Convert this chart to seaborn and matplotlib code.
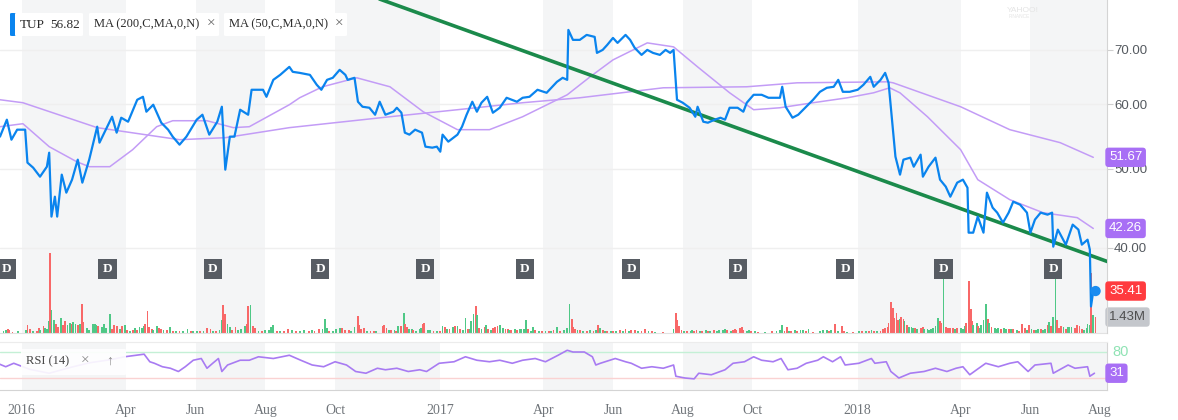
import numpy as np
import pandas as pd
import seaborn as sns
import matplotlib.pyplot as plt
from matplotlib import transforms
from matplotlib.patches import FancyBboxPatch

# day offsets are counted from this date
base = pd.Timestamp('2016-01-01')

# TUP close
price_day = [-19, -13, -9, -4, 3, 5, 10, 16, 22, 24,
             26, 29, 31, 35, 39, 44, 49, 53, 59, 66,
             68, 79, 83, 87, 93, 101, 106, 109, 115, 122,
             128, 132, 138, 144, 153, 158, 164, 171, 175, 178,
             182, 186, 191, 198, 201, 211, 214, 220, 226, 234,
             237, 243, 252, 258, 262, 267, 272, 278, 283, 285,
             291, 294, 298, 304, 309, 313, 318, 325, 328, 332,
             335, 339, 344, 350, 353, 359, 363, 366, 368, 373,
             381, 385, 389, 394, 398, 402, 407, 412, 418, 424,
             433, 438, 444, 451, 459, 468, 473, 477, 478, 482,
             488, 494, 501, 503, 508, 512, 517, 521, 528, 532,
             536, 542, 547, 552, 558, 563, 567, 570, 573, 578,
             584, 589, 591, 596, 600, 606, 611, 615, 619, 626,
             631, 634, 640, 647, 653, 659, 663, 665, 668, 674,
             679, 685, 692, 698, 704, 710, 714, 718, 724, 731,
             736, 742, 745, 751, 755, 758, 761, 764, 768, 771,
             777, 780, 786, 788, 793, 799, 803, 808, 812, 818,
             823, 827, 828, 832, 836, 841, 844, 849, 853, 858,
             863, 867, 873, 879, 882, 886, 891, 897, 901, 902,
             906, 913, 919, 924, 927, 932, 934, 935, 937]
price_close = [54.78, 57.47, 54.31, 55.87, 55.87, 50.90, 50.18, 48.92, 50.32, 52.35,
               43.70, 46.23, 43.70, 49.20, 46.76, 48.51, 51.33, 48.10, 51.33, 56.34,
               53.86, 57.95, 55.40, 57.79, 57.14, 60.80, 61.31, 58.78, 59.95, 56.98,
               55.87, 54.78, 53.55, 54.78, 57.47, 58.28, 55.09, 57.14, 59.61, 49.90,
               54.78, 54.78, 59.11, 58.28, 62.54, 62.54, 61.31, 64.32, 65.23, 66.72,
               65.79, 65.60, 65.23, 63.42, 62.54, 64.32, 64.69, 66.16, 65.23, 64.32,
               64.69, 60.46, 59.61, 59.44, 58.28, 60.46, 58.28, 58.78, 59.44, 58.61,
               55.40, 55.09, 55.87, 55.40, 53.25, 53.10, 53.25, 52.50, 55.09, 54.01,
               55.09, 56.34, 58.28, 60.46, 58.78, 60.29, 61.31, 58.61, 59.44, 61.14,
               60.46, 61.14, 61.31, 62.54, 62.01, 63.96, 64.69, 64.32, 74.07, 72.01,
               72.01, 73.03, 72.62, 69.41, 70.00, 71.00, 72.41, 71.40, 73.03, 72.01,
               70.40, 69.02, 70.00, 69.41, 69.02, 70.00, 69.41, 70.00, 60.80, 60.29,
               59.44, 57.95, 59.61, 57.14, 56.98, 57.47, 57.79, 57.47, 59.44, 59.44,
               58.78, 60.29, 61.66, 61.66, 61.14, 61.14, 61.14, 63.07, 59.61, 57.79,
               58.28, 59.44, 60.80, 62.18, 62.89, 63.07, 64.32, 62.18, 62.18, 62.54,
               63.42, 64.87, 63.07, 64.32, 65.60, 63.78, 57.47, 51.77, 49.20, 51.33,
               51.62, 50.32, 52.06, 48.92, 50.32, 51.62, 48.51, 47.56, 46.23, 48.10,
               48.51, 47.42, 41.76, 41.76, 43.70, 41.76, 46.76, 44.82, 44.19, 42.96,
               44.19, 45.58, 45.20, 44.19, 41.76, 43.33, 44.19, 43.94, 44.19, 40.14,
               42.12, 40.37, 42.72, 42.12, 40.37, 40.94, 39.80, 33.90, 35.41]

# moving averages
ma200_day = [-19, 1, 66, 138, 178, 234, 322, 381, 438, 488,
             561, 634, 678, 757, 762, 821, 864, 908, 937]
ma200 = [60.80, 60.29, 56.19, 54.31, 54.62, 56.19, 57.95, 59.11, 60.29, 61.14,
         62.89, 63.07, 63.78, 63.96, 63.78, 59.61, 55.87, 53.86, 51.67]
ma50_day = [-19, 1, 5, 24, 48, 59, 77, 97, 118, 132,
            162, 185, 199, 234, 243, 263, 293, 322, 351, 381,
            409, 438, 477, 497, 517, 547, 570, 591, 619, 640,
            663, 692, 722, 745, 759, 768, 792, 821, 836, 864,
            893, 923, 937]
ma50 = [56.34, 56.82, 56.19, 53.25, 51.04, 50.32, 50.32, 52.80, 56.34, 57.30,
        57.30, 56.19, 56.34, 59.95, 61.14, 63.07, 64.69, 63.07, 58.78, 55.87,
        55.87, 57.95, 61.66, 64.87, 68.05, 71.40, 70.60, 66.72, 62.01, 59.11,
        59.44, 60.29, 61.14, 62.01, 62.89, 62.00, 57.95, 52.80, 48.51, 45.84,
        44.19, 43.57, 42.26]

# hand drawn trend line
trend_day = [287, 961]
trend_px = [83.3, 37.97]

# RSI (14)
rsi_day = [-21, -14, -7, 7, 24, 42, 59, 77, 90, 100,
           107, 112, 116, 123, 130, 137, 143, 150, 157, 162,
           167, 172, 175, 180, 191, 199, 207, 220, 234, 244,
           254, 264, 274, 284, 292, 301, 311, 318, 328, 338,
           348, 354, 365, 378, 388, 398, 409, 418, 429, 438,
           449, 458, 469, 477, 482, 492, 499, 502, 506, 519,
           528, 533, 542, 551, 561, 570, 572, 580, 588, 592,
           603, 615, 622, 632, 640, 647, 657, 664, 670, 678,
           686, 696, 701, 709, 716, 720, 732, 743, 746, 756,
           760, 767, 777, 789, 799, 809, 817, 823, 829, 835,
           843, 854, 864, 871, 880, 886, 900, 902, 915, 921,
           932, 934, 938]
rsi = [53.75, 46, 54, 40, 31, 44, 55, 62, 69, 72.5,
       75, 57.5, 54, 46, 42.5, 35, 46, 61, 65, 42.5,
       54, 65, 35, 50, 61, 61, 69, 65, 72.5, 61,
       50, 46, 57.5, 50, 35, 31, 42.5, 39, 42.5, 35,
       39, 35, 54, 57.5, 69, 61, 57.5, 61, 54, 61,
       65, 57.5, 72.5, 84, 80, 80, 69, 50, 54, 65,
       57.5, 54, 42.5, 46, 42.5, 50, 24, 20, 18, 31,
       27.5, 39, 54, 57.5, 69, 61, 57.5, 65, 39, 42.5,
       54, 61, 69, 57.5, 69, 50, 54, 65, 54, 57.5,
       35, 20, 31, 35, 42.5, 35, 42.5, 46, 27.5, 39,
       54, 46, 54, 57.5, 35, 50, 54, 31, 50, 42.5,
       46, 24, 31]

# volume (millions), up day = 1
vol_day = [-16, -14, -12, -11, -8, -3, 4, 5, 7, 10,
           13, 15, 16, 19, 20, 22, 24, 25, 26, 28,
           30, 32, 34, 36, 38, 40, 42, 44, 45, 47,
           49, 51, 53, 54, 57, 59, 62, 64, 65, 67,
           70, 72, 74, 77, 79, 81, 83, 86, 88, 90,
           92, 95, 97, 99, 101, 103, 105, 107, 108, 110,
           111, 114, 115, 118, 120, 122, 124, 127, 130, 132,
           135, 138, 141, 145, 148, 150, 153, 156, 159, 162,
           165, 167, 170, 173, 175, 176, 178, 180, 182, 184,
           187, 189, 192, 195, 197, 198, 200, 202, 204, 207,
           210, 213, 216, 218, 220, 223, 226, 229, 233, 236,
           240, 243, 247, 251, 254, 256, 260, 263, 265, 267,
           269, 272, 275, 278, 280, 283, 286, 288, 291, 294,
           295, 297, 299, 302, 305, 308, 310,
           316, 317, 319, 321, 323, 326, 327, 329, 332, 334,
           335, 337, 339, 341, 342, 345, 348, 349, 351, 352,
           355, 357, 360, 363, 366, 368, 370, 372, 374, 377,
           379, 381, 383, 386, 388, 390, 392, 393, 395, 397,
           398, 400, 402, 405, 406, 408, 410, 412, 414, 416,
           418, 421, 423, 425, 426, 428, 431, 433, 436, 437,
           439, 441, 443, 445, 447, 449, 452, 455, 458, 461,
           463, 465, 468, 471, 474, 477, 479, 481, 482, 484,
           486, 488, 491, 494, 497, 500, 502, 504, 506, 508,
           510, 512, 515, 517, 520, 523, 526, 528, 531, 533,
           536, 539, 542, 545, 548, 551, 554, 561, 570, 572,
           573, 575, 577, 579, 582, 585, 586, 588, 590, 593,
           595, 598, 600, 602, 605, 608, 610, 613, 615, 617,
           620, 622, 624, 625, 628, 630, 631, 634, 636,
           638, 641, 644, 650, 656, 660, 663, 665, 667, 669,
           671, 673, 676, 678, 681, 683, 686, 688, 692, 698,
           701, 704, 706, 708, 711, 714, 717, 719, 722, 727,
           732, 735, 738, 741, 743, 745, 748, 751, 753, 755,
           757, 758, 760, 762, 763, 765, 766, 768, 769, 771,
           772, 774, 776, 778, 779, 781, 783, 786, 788, 789,
           792, 793, 795, 797, 799, 801, 803, 804, 806, 808,
           810, 812, 814, 816, 818, 821, 823, 825, 826, 828,
           830, 831, 832, 835, 836, 838, 839, 841, 843, 845,
           846, 848, 851, 852, 854, 856, 859, 861, 863, 865,
           867, 870, 872, 875, 877, 879, 881, 883, 885, 887,
           889, 891, 893, 895, 897, 898, 900, 902, 904, 905,
           907, 909, 911, 913, 915, 916, 918, 921, 923, 925,
           927, 929, 931, 932, 934, 935, 937, 939]
vol_m = [0.18, 0.27, 0.36, 0.27, 0.09, 0.18, 0.27, 0.72, 0.36, 0.18,
         0.18, 0.45, 0.27, 0.63, 0.45, 0.36, 1.07, 7.15, 2.06, 1.16,
         0.80, 0.54, 1.34, 0.72, 1.07, 0.72, 0.89, 0.80, 0.98, 0.80,
         0.72, 0.80, 2.59, 0.98, 0.45, 0.27, 0.80, 0.80, 0.72, 0.63,
         0.54, 0.80, 0.45, 1.70, 0.36, 0.72, 0.63, 0.36, 0.63, 0.72,
         0.27, 0.18, 0.27, 0.45, 0.27, 0.54, 0.45, 0.63, 0.80, 1.97,
         0.54, 0.36, 0.27, 0.63, 0.45, 0.36, 0.27, 0.27, 0.54, 0.18,
         0.18, 0.18, 0.18, 0.36, 0.18, 0.18, 0.18, 0.18, 0.18, 0.45,
         0.36, 0.18, 0.18, 0.27, 1.16, 2.50, 1.70, 0.80, 0.54, 0.27,
         0.54, 0.27, 0.36, 0.63, 0.80, 2.41, 2.50, 0.63, 0.45, 0.18,
         0.18, 0.27, 0.27, 0.54, 0.72, 0.18, 0.18, 0.18, 0.36, 0.27,
         0.18, 0.18, 0.27, 0.18, 0.27, 0.18, 0.36, 0.36, 1.25, 0.45,
         0.18, 0.18, 0.36, 0.45, 0.45, 0.27, 0.27, 0.18, 0.54, 1.52,
         0.72, 0.36, 0.45, 0.18, 0.18, 0.18, 0.18,
         0.63, 0.72, 0.45, 0.27, 0.27, 0.27, 0.18, 0.63, 0.63, 1.79,
         0.80, 0.54, 0.36, 0.36, 0.27, 0.18, 0.36, 0.45, 0.80, 0.89,
         0.27, 0.27, 0.18, 0.18, 0.18, 0.63, 0.54, 0.36, 0.36, 0.54,
         0.63, 0.63, 0.36, 0.27, 1.34, 0.36, 0.36, 1.07, 1.70, 2.41,
         1.61, 0.45, 0.36, 0.54, 0.72, 0.36, 0.27, 0.45, 0.54, 0.63,
         0.72, 0.45, 0.36, 0.36, 0.27, 0.27, 0.36, 0.27, 0.36, 0.36,
         0.36, 1.16, 0.36, 0.18, 0.54, 0.27, 0.18, 0.18, 0.18, 0.18,
         0.18, 0.27, 0.54, 0.18, 0.27, 0.45, 2.59, 1.25, 0.54, 0.36,
         0.27, 0.27, 0.18, 0.18, 0.27, 0.18, 0.27, 0.72, 0.45, 0.27,
         0.18, 0.18, 0.18, 0.18, 0.18, 0.27, 0.18, 0.36, 0.18, 0.27,
         0.27, 0.18, 0.18, 0.36, 0.18, 0.18, 0.09, 0.09, 0.36, 1.79,
         1.16, 0.63, 0.27, 0.18, 0.18, 0.18, 0.27, 0.18, 0.27, 0.18,
         0.18, 0.27, 0.18, 0.18, 0.27, 0.18, 0.27, 0.27, 0.36, 0.27,
         0.18, 0.27, 0.36, 0.27, 0.45, 0.54, 0.27, 0.18, 0.27,
         0.18, 0.18, 0.09, 0.09, 0.18, 0.18, 0.27, 0.72, 0.18, 0.54,
         0.18, 0.18, 0.27, 0.18, 0.27, 0.27, 0.18, 0.36, 0.09, 0.18,
         0.27, 0.27, 0.18, 0.27, 0.80, 0.18, 0.63, 0.18, 0.09, 0.09,
         0.18, 0.18, 0.18, 0.18, 0.27, 0.18, 0.18, 0.18, 0.36, 0.45,
         0.54, 0.89, 2.77, 2.24, 1.34, 1.79, 1.16, 1.25, 1.43, 1.25,
         1.07, 0.72, 0.54, 0.54, 0.45, 0.45, 0.36, 0.45, 0.54, 0.36,
         0.36, 0.27, 0.36, 0.45, 0.63, 1.34, 1.07, 0.89, 5.19, 0.54,
         0.45, 0.45, 0.45, 0.36, 0.45, 0.45, 0.36, 0.63, 0.89, 4.65,
         2.15, 1.07, 0.72, 0.89, 0.63, 0.45, 0.72, 1.16, 2.59, 1.25,
         0.89, 0.54, 0.45, 0.36, 0.45, 0.36, 0.45, 0.36, 0.36, 0.36,
         0.36, 0.27, 0.18, 0.80, 0.45, 0.27, 0.72, 0.36, 0.27, 0.27,
         0.36, 0.36, 0.27, 0.36, 0.72, 0.98, 0.63, 1.43, 5.10, 1.16,
         0.45, 0.63, 0.54, 0.36, 0.54, 0.54, 0.54, 0.45, 0.72, 0.63,
         0.36, 0.27, 0.45, 0.80, 0.72, 5.36, 1.61, 1.43]
vol_up = [1, 1, 0, 0, 0, 1, 1, 0, 0, 1,
          0, 0, 1, 0, 1, 1, 1, 0, 1, 1,
          0, 0, 1, 0, 0, 1, 1, 0, 1, 1,
          0, 1, 0, 0, 1, 1, 1, 1, 1, 0,
          1, 1, 1, 1, 0, 0, 0, 1, 0, 1,
          0, 1, 0, 1, 0, 1, 1, 1, 0, 0,
          0, 0, 1, 1, 0, 0, 1, 0, 1, 0,
          1, 0, 1, 1, 0, 1, 1, 0, 1, 0,
          0, 1, 0, 1, 1, 0, 0, 1, 1, 0,
          0, 1, 1, 1, 0, 0, 1, 0, 0, 1,
          0, 1, 1, 1, 1, 0, 1, 0, 0, 1,
          0, 1, 1, 0, 1, 0, 0, 1, 1, 1,
          0, 1, 1, 1, 0, 0, 0, 1, 1, 0,
          0, 0, 0, 1, 0, 0, 1,
          0, 0, 0, 1, 0, 1, 0, 1, 0, 1,
          0, 0, 1, 1, 0, 1, 1, 1, 0, 0,
          1, 1, 0, 1, 0, 1, 0, 1, 0, 1,
          0, 1, 0, 1, 1, 0, 1, 1, 1, 0,
          1, 0, 1, 0, 1, 0, 1, 0, 0, 0,
          1, 1, 0, 0, 1, 0, 1, 0, 1, 1,
          1, 1, 0, 1, 1, 0, 1, 0, 1, 0,
          1, 0, 1, 0, 1, 1, 1, 0, 0, 0,
          1, 0, 1, 0, 1, 0, 1, 0, 1, 0,
          1, 0, 1, 0, 1, 0, 1, 0, 1, 0,
          0, 1, 0, 0, 1, 0, 1, 0, 1, 0,
          0, 0, 0, 1, 0, 1, 1, 0, 0, 1,
          0, 1, 0, 1, 0, 1, 1, 1, 1, 0,
          1, 0, 0, 0, 0, 0, 0, 1, 1,
          0, 1, 0, 1, 0, 1, 1, 1, 0, 0,
          1, 0, 1, 0, 1, 1, 0, 1, 0, 1,
          1, 1, 0, 1, 0, 1, 0, 0, 1, 0,
          1, 0, 1, 0, 1, 0, 1, 0, 0, 0,
          0, 0, 0, 0, 0, 0, 0, 1, 0, 0,
          1, 0, 1, 1, 1, 0, 1, 0, 0, 1,
          1, 1, 1, 1, 1, 1, 0, 0, 1, 0,
          0, 0, 0, 1, 0, 1, 1, 1, 0, 0,
          0, 0, 1, 1, 0, 1, 1, 1, 1, 0,
          1, 0, 1, 1, 1, 0, 1, 1, 0, 1,
          0, 1, 0, 0, 0, 1, 0, 1, 0, 1,
          1, 0, 1, 1, 0, 1, 0, 1, 1, 0,
          0, 0, 1, 0, 1, 1, 1, 0, 0, 0,
          0, 1, 1, 1, 1, 0, 1, 0]

# dividend markers
div_day = [-13, 75, 167, 261, 353, 440, 533, 626, 720, 806, 902]

tick_dates = ['2016-01-01', '2016-04-01', '2016-06-01', '2016-08-01', '2016-10-01',
              '2017-01-01', '2017-04-01', '2017-06-01', '2017-08-01', '2017-10-01',
              '2018-01-01', '2018-04-01', '2018-06-01', '2018-08-01']
tick_labels = ['2016', 'Apr', 'Jun', 'Aug', 'Oct', '2017', 'Apr', 'Jun', 'Aug', 'Oct',
               '2018', 'Apr', 'Jun', 'Aug']
shade_from = ['2016-01-01', '2016-06-01', '2016-10-01', '2017-04-01', '2017-08-01',
              '2018-01-01', '2018-06-01']
shade_to = ['2016-04-01', '2016-08-01', '2017-01-01', '2017-06-01', '2017-10-01',
            '2018-04-01', '2018-08-20']
price_ticks = [40, 50, 60, 70]
last_close, last_ma200, last_ma50, last_vol, last_rsi = 35.41, 51.67, 42.26, 1.43, 31


def to_dates(days):
    return base + pd.to_timedelta(np.asarray(days), unit='D')


sns.set_style('white')
plt.rcParams['font.family'] = ['Liberation Sans', 'DejaVu Sans']

W, H = 1178, 420
fig = plt.figure(figsize=(W / 100, H / 100), dpi=100)


def rect(x0, y0, x1, y1):
    return [x0 / W, 1 - y1 / H, (x1 - x0) / W, (y1 - y0) / H]


axv = fig.add_axes(rect(0, 0, 1107, 333))
ax = fig.add_axes(rect(0, 0, 1107, 333), sharex=axv)
axr = fig.add_axes(rect(0, 342, 1107, 390), sharex=axv)
ax.patch.set_visible(False)
ax.set_zorder(2)
axv.set_zorder(1)

band = '#f4f5f6'
for s, e in zip(shade_from, shade_to):
    axv.axvspan(pd.Timestamp(s), pd.Timestamp(e), color=band, lw=0, zorder=0)
    axr.axvspan(pd.Timestamp(s), pd.Timestamp(e), color=band, lw=0, zorder=0)

# volume
vcol = ['#4fc886' if u else '#f86868' for u in vol_up]
axv.bar(to_dates(vol_day), vol_m, width=1.6, color=vcol, lw=0, zorder=2,
        antialiased=False)
axv.set_ylim(0, 29.8)
axv.set_yticks([])
for sp in ['top', 'left', 'right']:
    axv.spines[sp].set_visible(False)
axv.spines['bottom'].set_color('#e2e2e2')
axv.tick_params(axis='x', bottom=False, labelbottom=False)

# price panel
ax.set_yscale('log')
ax.grid(axis='y', color='#efefef', lw=1)
ax.grid(axis='x', visible=False)
sns.lineplot(x=to_dates(ma200_day), y=ma200, ax=ax, color='#c39cf6', lw=1.1, zorder=2)
sns.lineplot(x=to_dates(ma50_day), y=ma50, ax=ax, color='#c39cf6', lw=1.1, zorder=2)
sns.lineplot(x=to_dates(trend_day), y=trend_px, ax=ax, color='#1b8a4b', lw=2.6, zorder=3)
sns.lineplot(x=to_dates(price_day), y=price_close, ax=ax, color='#0a84ee', lw=1.6, zorder=4)
sns.scatterplot(x=to_dates([939]), y=[last_close], ax=ax, s=55, color='#1a8cf0',
                edgecolor='none', zorder=6)
ax.set_ylim(31.45, 80.6)
ax.set_xlim(pd.Timestamp('2015-12-13'), pd.Timestamp('2018-08-07'))
ax.set_xlabel('')
ax.set_ylabel('')
ax.yaxis.tick_right()
ax.set_yticks(price_ticks)
ax.set_yticklabels([f'{t:.2f}' for t in price_ticks])
ax.yaxis.set_minor_locator(plt.NullLocator())
ax.tick_params(axis='y', length=4, color='#cfcfcf', labelcolor='#555a60',
               labelsize=9.5, pad=1)
ax.tick_params(axis='x', bottom=False, labelbottom=False)
for sp in ['top', 'left', 'bottom']:
    ax.spines[sp].set_visible(False)
ax.spines['right'].set_color('#d4d4d4')

# dividend boxes
dtr = transforms.blended_transform_factory(ax.transData, ax.transAxes)
for d in to_dates(div_day):
    ax.text(d, 0.192, 'D', transform=dtr, ha='center', va='center', color='white',
            fontsize=9.5, fontweight='bold', family='Liberation Serif', zorder=5,
            bbox=dict(boxstyle='square,pad=0.32', fc='#575c63', ec='none'))


def badge(axis, y, text, fc, tc='white'):
    tr = transforms.blended_transform_factory(axis.transAxes, axis.transData)
    axis.text(1109 / 1107, y, text, transform=tr, ha='left', va='center', fontsize=9.5,
              color=tc, family='Liberation Sans', clip_on=False, zorder=10,
              bbox=dict(boxstyle='round,pad=0.28,rounding_size=0.25', fc=fc, ec='none'))


badge(ax, last_ma200, f'{last_ma200:.2f}', '#a86ff5')
badge(ax, last_ma50, f'{last_ma50:.2f}', '#a86ff5')
badge(ax, last_close, f'{last_close:.2f}', '#ff3b3f')
badge(axv, last_vol, f'{last_vol:.2f}M', '#c4c7cc', '#4f4f4f')

# RSI panel
axr.axhline(80, color='#c4f0d6', lw=1, zorder=1)
axr.axhline(20, color='#fad2d2', lw=1, zorder=1)
sns.lineplot(x=to_dates(rsi_day), y=rsi, ax=axr, color='#a87bf2', lw=1.2, zorder=3)
axr.set_ylim(-7.7, 103.1)
axr.set_yticks([])
axr.set_xlabel('')
axr.set_ylabel('')
axr.set_xticks(pd.to_datetime(tick_dates))
axr.set_xticklabels(tick_labels)
axr.tick_params(axis='x', length=4, color='#c8c8c8', labelcolor='#70757a',
                labelsize=10, pad=6)
for lab in axr.get_xticklabels():
    lab.set_family('Liberation Serif')
axr.spines['left'].set_visible(False)
axr.spines['top'].set_color('#ececec')
axr.spines['bottom'].set_color('#d4d4d4')
axr.spines['right'].set_color('#d4d4d4')
rtr = transforms.blended_transform_factory(axr.transAxes, axr.transData)
axr.text(1112 / 1107, 80, '80', transform=rtr, ha='left', va='center', fontsize=10.5,
         color='#8fe3b4', clip_on=False)
badge(axr, last_rsi, f'{last_rsi}', '#a86ff5')

# top-left legend boxes
def fbox(x0, y0, x1, y1, fc, alpha=1.0):
    fig.patches.append(FancyBboxPatch((x0 / W, 1 - y1 / H), (x1 - x0) / W, (y1 - y0) / H,
                                      boxstyle='round,pad=0,rounding_size=0.002',
                                      transform=fig.transFigure, fc=fc, ec='none',
                                      alpha=alpha, zorder=5))


def ftext(x, y, s, color='#2b2b2b', size=9):
    fig.text(x / W, 1 - y / H, s, ha='left', va='center', color=color, fontsize=size,
             family=['Liberation Serif', 'DejaVu Sans'], zorder=6)


fbox(10, 13, 16, 36, '#0a84ee')
fbox(15, 13, 83, 36, 'white')
fbox(89, 13, 219, 36, 'white')
fbox(224, 13, 347, 36, 'white')
ftext(20, 24.5, 'TUP', size=9.5)
ftext(50, 24.5, '56.82', size=9.5)
ftext(94, 24.5, 'MA (200,C,MA,0,N)')
ftext(207, 24.5, '×', '#666666', 11)
ftext(229, 24.5, 'MA (50,C,MA,0,N)')
ftext(335, 24.5, '×', '#666666', 11)

fbox(21, 349, 126, 375, 'white', 0.9)
ftext(26, 361, 'RSI (14)', '#444444')
ftext(81, 361, '×', '#8a8a8a', 11)
ftext(106, 361, '↑', '#8a8a8a', 10)

fig.text(1007 / W, 1 - 10 / H, 'YAHOO!', fontsize=6, color='#e4e4e4', va='center')
fig.text(1009 / W, 1 - 16 / H, 'FINANCE', fontsize=3.5, color='#e4e4e4', va='center')

fig.savefig('out.png', dpi=100)
